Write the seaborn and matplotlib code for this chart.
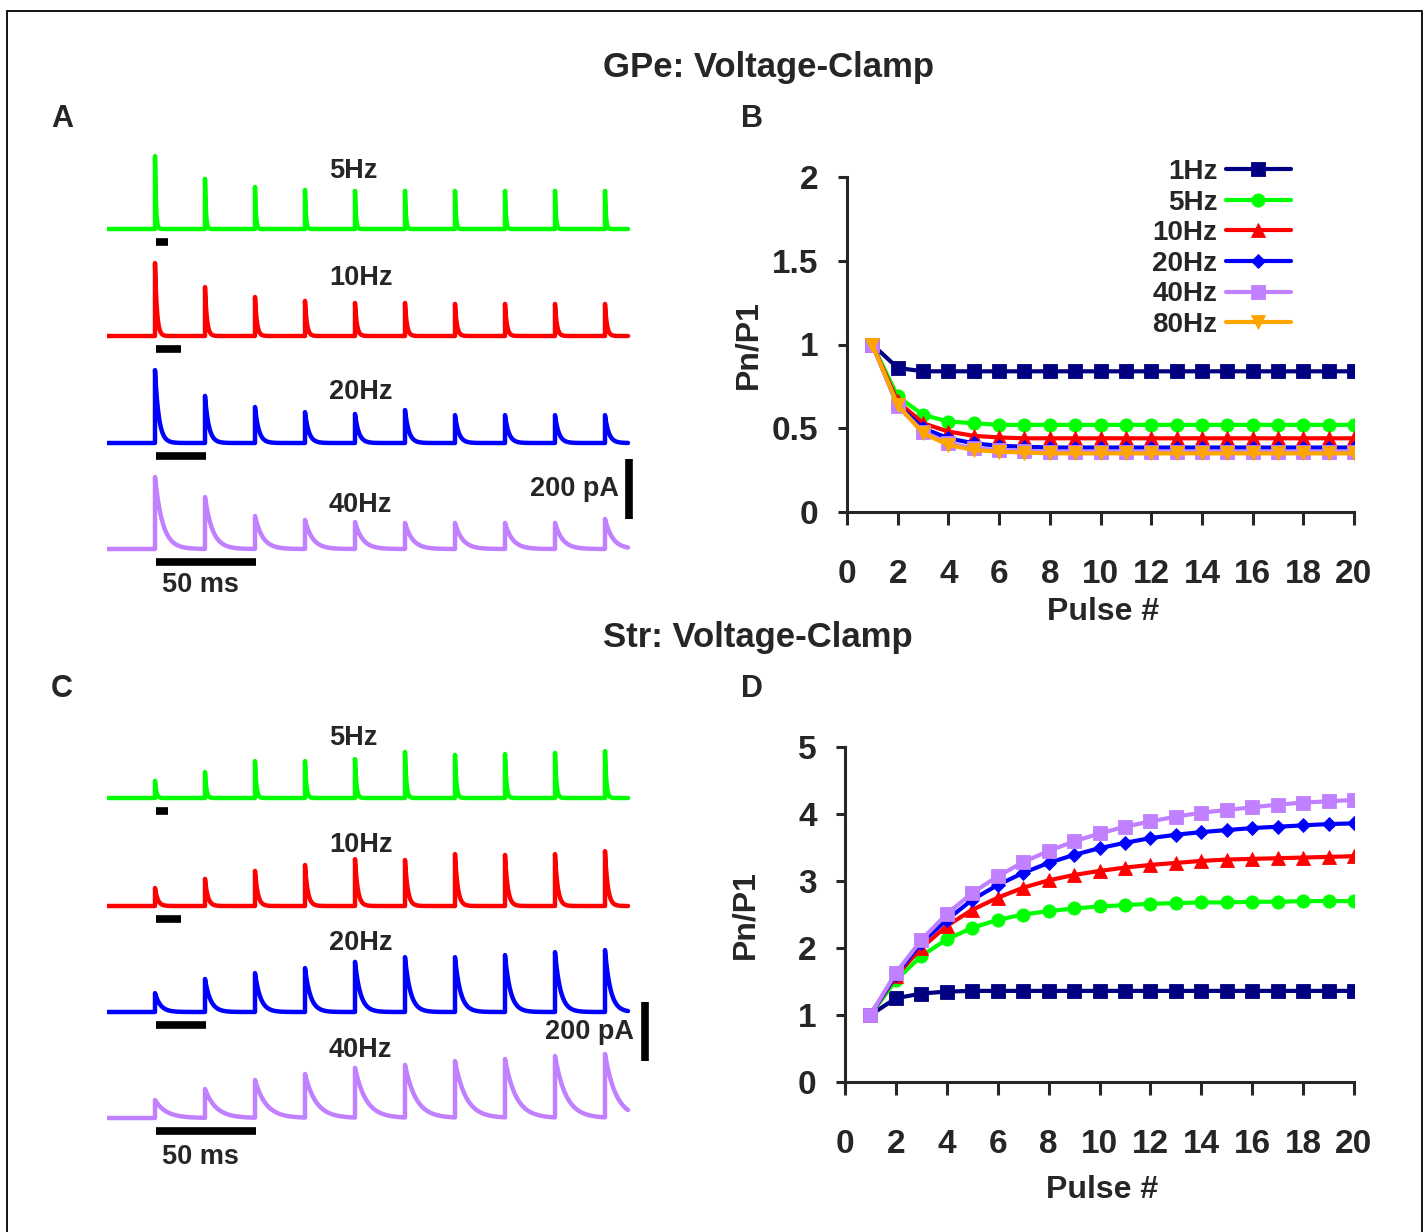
import numpy as np
import pandas as pd
import matplotlib
matplotlib.use('Agg')
import matplotlib.pyplot as plt
import seaborn as sns
from matplotlib import font_manager
from matplotlib.patches import Rectangle

# ---- Pn/P1 vs pulse number (panels B and D) ----
pulse_n = list(range(1, 21))

gpe_1hz = [1.00, 0.86, 0.84, 0.84, 0.84, 0.84, 0.84, 0.84, 0.84, 0.84,
           0.84, 0.84, 0.84, 0.84, 0.84, 0.84, 0.84, 0.84, 0.84, 0.84]
gpe_5hz = [1.00, 0.69, 0.58, 0.54, 0.53, 0.52, 0.52, 0.52, 0.52, 0.52,
           0.52, 0.52, 0.52, 0.52, 0.52, 0.52, 0.52, 0.52, 0.52, 0.52]
gpe_10hz = [1.00, 0.66, 0.53, 0.48, 0.455, 0.445, 0.44, 0.44, 0.44, 0.44,
            0.44, 0.44, 0.44, 0.44, 0.44, 0.44, 0.44, 0.44, 0.44, 0.44]
gpe_20hz = [1.00, 0.64, 0.50, 0.44, 0.41, 0.395, 0.39, 0.385, 0.385, 0.385,
            0.385, 0.385, 0.385, 0.385, 0.385, 0.385, 0.385, 0.385, 0.385, 0.385]
gpe_40hz = [1.00, 0.63, 0.48, 0.41, 0.38, 0.37, 0.365, 0.36, 0.36, 0.36,
            0.36, 0.36, 0.36, 0.36, 0.36, 0.36, 0.36, 0.36, 0.36, 0.36]
gpe_80hz = [1.00, 0.64, 0.47, 0.40, 0.37, 0.36, 0.355, 0.35, 0.35, 0.35,
            0.35, 0.35, 0.35, 0.35, 0.35, 0.35, 0.35, 0.35, 0.35, 0.35]

str_1hz = [1.00, 1.25, 1.32, 1.35, 1.36, 1.36, 1.36, 1.36, 1.36, 1.36,
           1.36, 1.36, 1.36, 1.36, 1.36, 1.36, 1.36, 1.36, 1.36, 1.36]
str_5hz = [1.00, 1.52, 1.88, 2.13, 2.30, 2.42, 2.50, 2.55, 2.59, 2.62,
           2.64, 2.66, 2.67, 2.68, 2.68, 2.69, 2.69, 2.70, 2.70, 2.70]
str_10hz = [1.00, 1.58, 2.00, 2.33, 2.57, 2.75, 2.90, 3.01, 3.09, 3.15,
            3.20, 3.24, 3.27, 3.30, 3.32, 3.33, 3.34, 3.35, 3.36, 3.37]
str_20hz = [1.00, 1.60, 2.08, 2.42, 2.72, 2.94, 3.12, 3.27, 3.39, 3.49,
            3.57, 3.64, 3.69, 3.73, 3.76, 3.79, 3.81, 3.83, 3.85, 3.86]
str_40hz = [1.00, 1.63, 2.12, 2.51, 2.82, 3.07, 3.28, 3.45, 3.59, 3.71,
            3.81, 3.89, 3.96, 4.02, 4.06, 4.10, 4.14, 4.17, 4.19, 4.21]

# ---- example current traces (panels A and C): peak amplitude of each pulse, pA ----
trace_freqs = [5, 10, 20, 40]
gpe_peaks = {
    5:  [243, 167, 140, 130, 127, 127, 127, 127, 127, 127],
    10: [243, 163, 130, 117, 110, 110, 107, 107, 107, 107],
    20: [243, 157, 120, 103, 97, 110, 93, 93, 93, 93],
    40: [240, 173, 110, 97, 90, 87, 87, 87, 87, 100],
}
str_peaks = {
    5:  [58, 88, 125, 125, 132, 156, 146, 149, 153, 159],
    10: [61, 92, 119, 139, 159, 156, 176, 173, 176, 186],
    20: [64, 112, 132, 149, 170, 186, 186, 193, 203, 210],
    40: [61, 98, 129, 149, 170, 180, 193, 200, 210, 217],
}
gpe_tau = 3.8   # ms, decay of the traces
str_tau = 5.5

freq_colors = {'1Hz': '#000080', '5Hz': '#00ff00', '10Hz': '#ff0000',
               '20Hz': '#0000ff', '40Hz': '#c080ff', '80Hz': '#ffa500'}
freq_markers = {'1Hz': 's', '5Hz': 'o', '10Hz': '^', '20Hz': 'D',
                '40Hz': 's', '80Hz': 'v'}

sns.set_style('ticks')
plt.rcParams['font.family'] = ['Liberation Sans', 'DejaVu Sans']
names = {f.name for f in font_manager.fontManager.ttflist}
NARROW = 'Liberation Sans Narrow' if 'Liberation Sans Narrow' in names else 'Liberation Sans'

W, H = 1427, 1232
fig = plt.figure(figsize=(W / 100, H / 100), dpi=100)


def px_axes(l, t, r, b):
    return fig.add_axes([l / W, 1 - b / H, (r - l) / W, (b - t) / H])


def ftext(x, y, s, size=19.5, **kw):
    fig.text(x / W, 1 - y / H, s, fontsize=size, fontweight='bold', **kw)


def build_trace(peaks, T, tau, t0, t1):
    ts = [np.array([t0, 0.0])]
    ys = [np.array([0.0, 0.0])]
    for i, p in enumerate(peaks):
        start = i * T
        stop = (i + 1) * T if i < len(peaks) - 1 else t1
        t = np.linspace(start, stop, 1200)
        ts.append(t)
        ys.append(p * np.exp(-(t - start) / tau))
    return np.concatenate(ts), np.concatenate(ys)


def trace_panel(peaks_by_f, tau, baselines, px_per_200, bar_info, label_dy, scale_text):
    k = 200.0 / px_per_200   # pA per pixel
    axes = []
    for f, base, dy in zip(trace_freqs, baselines, label_dy):
        T = 1000.0 / f
        s = 50.0 / T         # pixels per ms
        ax = px_axes(107, base - 130, 650, base + 45)
        ax.set_xlim((107 - 155) / s, (650 - 155) / s)
        ax.set_ylim(-45 * k, 130 * k)
        ax.axis('off')
        t, y = build_trace(peaks_by_f[f], T, tau, (107 - 155) / s, (628 - 155) / s)
        sns.lineplot(x=t, y=y, ax=ax, color=freq_colors[f'{f}Hz'], linewidth=3.2,
                     sort=False, estimator=None)
        # 50 ms bar under each trace
        ax.plot([0.5 / s, 0.5 / s + 50], [-12.5 * k] * 2, color='black', lw=5.5,
                solid_capstyle='butt')
        ftext(329, base - dy, f'{f}Hz', va='center', ha='left')
        axes.append((ax, s, base))
    ax, s, base = axes[-1]
    bx, btop = bar_info
    ax.plot([(bx - 155) / s] * 2, [(base - btop) * k - 200, (base - btop) * k],
            color='black', lw=5.5, solid_capstyle='butt', clip_on=False)
    ftext(scale_text[0], scale_text[1], '200 pA', ha='right', va='center')
    ftext(162, base + scale_text[2], '50 ms', ha='left', va='center')


trace_panel(gpe_peaks, gpe_tau, [229, 336, 443, 549], 60, (629, 459),
            [58, 58, 51, 44], (619, 489, 36))
trace_panel(str_peaks, str_tau, [798, 906, 1012, 1118], 59, (645, 1002),
            [60, 61, 69, 68], (634, 1032, 39))


def ratio_panel(ax, series, ymax, yticks, yticklabels, xlab_y, ylab_x):
    df = pd.DataFrame([{'pulse': p, 'ratio': v, 'freq': name}
                       for name, vals in series for p, v in zip(pulse_n, vals)])
    order = [name for name, _ in series]
    sns.lineplot(data=df, x='pulse', y='ratio', hue='freq', style='freq',
                 hue_order=order, style_order=order, palette=freq_colors,
                 markers=freq_markers, dashes=False, linewidth=3.0,
                 markersize=9.5, markeredgewidth=0.6, legend=False, ax=ax)
    for ln in ax.lines:
        if ln.get_marker() == 'D':
            ln.set_markersize(7.5)
        ln.set_markeredgecolor(ln.get_color())
    ax.set_xlim(0, 20)
    ax.set_ylim(0, ymax)
    ax.set_xticks(range(0, 21, 2))
    ax.set_yticks(yticks)
    ax.set_yticklabels(yticklabels)
    sns.despine(ax=ax)
    for sp in ('left', 'bottom'):
        ax.spines[sp].set_linewidth(2.2)
    ax.tick_params(axis='x', width=2.2, length=9, pad=25, labelsize=24)
    ax.tick_params(axis='y', width=2.2, length=6.5, pad=14, labelsize=24)
    for lab in ax.get_xticklabels() + ax.get_yticklabels():
        lab.set_fontfamily(NARROW)
        lab.set_fontweight('bold')
    ax.set_xlabel('Pulse #', fontsize=23, fontweight='bold', family=NARROW)
    ax.set_ylabel('Pn/P1', fontsize=23, fontweight='bold', family=NARROW)
    ax.xaxis.set_label_coords(0.506, xlab_y)
    ax.xaxis.label.set_va('center')
    ax.yaxis.set_label_coords(ylab_x, 0.5)
    ax.yaxis.label.set_va('center')
    return order


axB = px_axes(847, 177, 1354, 512)
orderB = ratio_panel(axB, [('1Hz', gpe_1hz), ('5Hz', gpe_5hz), ('10Hz', gpe_10hz),
                           ('20Hz', gpe_20hz), ('40Hz', gpe_40hz), ('80Hz', gpe_80hz)],
                     2, [0, 0.5, 1, 1.5, 2], ['0', '0.5', '1', '1.5', '2'], -0.299, -0.195)
leg = axB.legend(handles=list(axB.lines), labels=orderB, loc='upper right',
                 bbox_to_anchor=(1291 / W, 1 - 159 / H), bbox_transform=fig.transFigure,
                 frameon=False, markerfirst=False, handlelength=2.35, handletextpad=0.3,
                 labelspacing=0.165, borderpad=0, borderaxespad=0,
                 prop={'family': NARROW, 'weight': 'bold', 'size': 20})

axD = px_axes(845, 747, 1354, 1082)
ratio_panel(axD, [('1Hz', str_1hz), ('5Hz', str_5hz), ('10Hz', str_10hz),
                  ('20Hz', str_20hz), ('40Hz', str_40hz)],
            5, [0, 1, 2, 3, 4, 5], ['0', '1', '2', '3', '4', '5'], -0.322, -0.196)

# titles and panel letters
ftext(768, 67, 'GPe: Voltage-Clamp', size=25, ha='center', va='center')
ftext(758, 637, 'Str: Voltage-Clamp', size=25, ha='center', va='center')
for letter, x, y in [('A', 62, 119), ('B', 752, 119), ('C', 62, 689), ('D', 752, 689)]:
    ftext(x, y, letter, size=22, ha='center', va='center')

fig.patches.append(Rectangle((7 / W, -0.01), (1422 - 7) / W, 1 - 11 / H + 0.01,
                             transform=fig.transFigure, fill=False, lw=1.3,
                             ec='black', zorder=10))

fig.savefig('out.png', dpi=100)
